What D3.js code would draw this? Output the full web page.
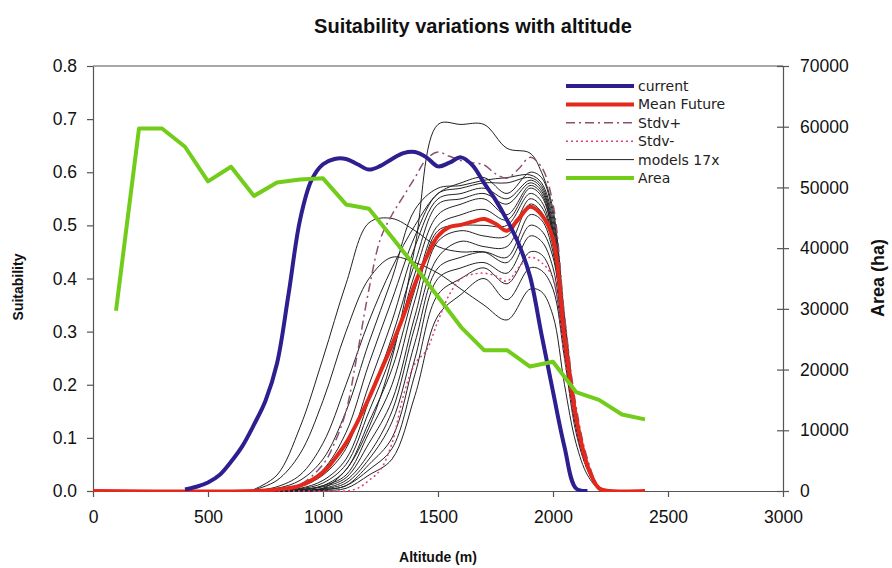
<!DOCTYPE html>
<html lang="en">
<head>
<meta charset="UTF-8">
<title>Suitability variations with altitude</title>
<script src="https://d3js.org/d3.v7.min.js"></script>
<style>
  body { margin: 0; background: #fff; }
  svg { display: block; font-family: "Liberation Sans", Arial, sans-serif; }
  .tick text { font-size: 17.5px; fill: #111; }
  .domain, .tick line { stroke: #555; stroke-width: 1.2; }
  .legend text { font-family: "DejaVu Sans", Verdana, sans-serif; font-size: 14px; fill: #222; }
</style>
</head>
<body>
<svg width="892" height="568"></svg>
<script>
// altitude grids (m)
const currentAlt = [400, 450, 500, 550, 600, 650, 700, 750, 800, 850, 900, 950, 1000, 1050, 1100, 1150, 1200, 1250, 1300, 1350, 1400, 1450, 1500, 1550, 1600, 1650, 1700, 1750, 1800, 1850, 1900, 1950, 2000, 2050, 2100, 2150];
const current = [0.003, 0.008, 0.016, 0.03, 0.055, 0.085, 0.125, 0.17, 0.24, 0.37, 0.51, 0.585, 0.615, 0.625, 0.625, 0.615, 0.605, 0.612, 0.625, 0.636, 0.638, 0.628, 0.611, 0.618, 0.628, 0.613, 0.58, 0.548, 0.51, 0.466, 0.404, 0.295, 0.187, 0.083, 0.005, 0];

const futureAlt = [0, 700, 800, 900, 1000, 1050, 1100, 1150, 1200, 1250, 1300, 1350, 1400, 1450, 1500, 1550, 1600, 1650, 1700, 1750, 1800, 1850, 1900, 1950, 2000, 2050, 2100, 2150, 2200, 2250, 2400];
const meanFuture = [0, 0, 0.003, 0.01, 0.035, 0.06, 0.09, 0.13, 0.175, 0.225, 0.275, 0.33, 0.39, 0.44, 0.48, 0.497, 0.501, 0.507, 0.512, 0.503, 0.49, 0.512, 0.535, 0.52, 0.475, 0.29, 0.14, 0.048, 0.005, 0, 0];
const stdvPlus = [0, 0, 0.003, 0.012, 0.05, 0.09, 0.15, 0.26, 0.38, 0.475, 0.52, 0.555, 0.59, 0.625, 0.638, 0.63, 0.622, 0.618, 0.614, 0.597, 0.589, 0.606, 0.628, 0.61, 0.54, 0.33, 0.16, 0.06, 0.008, 0, 0];
const stdvMinus = [0, 0, 0, 0, 0, 0, 0, 0.005, 0.02, 0.04, 0.09, 0.18, 0.24, 0.265, 0.32, 0.37, 0.40, 0.408, 0.41, 0.405, 0.395, 0.42, 0.44, 0.43, 0.40, 0.25, 0.12, 0.04, 0.005, 0, 0];

// 17 individual model runs
const modelAlt = [700, 800, 900, 1000, 1100, 1200, 1300, 1400, 1500, 1600, 1700, 1800, 1900, 1950, 2000, 2050, 2100, 2150, 2200, 2250];
const models = [
  [0, 0, 0, 0.005, 0.04, 0.12, 0.25, 0.46, 0.69, 0.69, 0.69, 0.645, 0.636, 0.6, 0.53, 0.33, 0.15, 0.05, 0.008, 0],
  [0.003, 0.03, 0.12, 0.25, 0.39, 0.505, 0.513, 0.49, 0.46, 0.45, 0.45, 0.43, 0.50, 0.49, 0.44, 0.28, 0.13, 0.045, 0.006, 0],
  [0.002, 0.02, 0.07, 0.17, 0.30, 0.40, 0.44, 0.43, 0.41, 0.38, 0.35, 0.322, 0.38, 0.375, 0.33, 0.2, 0.09, 0.03, 0.004, 0],
  [0, 0.008, 0.03, 0.09, 0.2, 0.32, 0.42, 0.50, 0.56, 0.58, 0.59, 0.56, 0.60, 0.59, 0.52, 0.32, 0.15, 0.05, 0.007, 0],
  [0, 0.005, 0.02, 0.06, 0.15, 0.28, 0.40, 0.53, 0.57, 0.575, 0.585, 0.59, 0.595, 0.58, 0.51, 0.31, 0.14, 0.05, 0.007, 0],
  [0, 0.003, 0.01, 0.04, 0.11, 0.24, 0.36, 0.48, 0.56, 0.57, 0.58, 0.58, 0.59, 0.575, 0.5, 0.31, 0.14, 0.05, 0.007, 0],
  [0, 0.002, 0.008, 0.03, 0.08, 0.2, 0.32, 0.46, 0.55, 0.56, 0.57, 0.55, 0.585, 0.57, 0.49, 0.3, 0.14, 0.05, 0.006, 0],
  [0, 0.001, 0.005, 0.02, 0.06, 0.17, 0.29, 0.43, 0.54, 0.55, 0.56, 0.54, 0.58, 0.565, 0.49, 0.3, 0.14, 0.048, 0.006, 0],
  [0, 0, 0.004, 0.015, 0.05, 0.15, 0.26, 0.41, 0.52, 0.54, 0.55, 0.52, 0.575, 0.56, 0.48, 0.3, 0.13, 0.047, 0.006, 0],
  [0, 0, 0.003, 0.01, 0.04, 0.13, 0.23, 0.38, 0.50, 0.52, 0.53, 0.51, 0.57, 0.555, 0.48, 0.29, 0.13, 0.046, 0.006, 0],
  [0, 0, 0.002, 0.01, 0.03, 0.11, 0.2, 0.36, 0.49, 0.50, 0.50, 0.50, 0.56, 0.545, 0.47, 0.29, 0.13, 0.045, 0.006, 0],
  [0, 0, 0.002, 0.008, 0.025, 0.09, 0.17, 0.33, 0.47, 0.49, 0.48, 0.48, 0.55, 0.535, 0.47, 0.29, 0.13, 0.045, 0.006, 0],
  [0, 0, 0.001, 0.005, 0.02, 0.07, 0.15, 0.31, 0.44, 0.47, 0.46, 0.46, 0.54, 0.525, 0.46, 0.28, 0.13, 0.044, 0.006, 0],
  [0, 0, 0.001, 0.004, 0.015, 0.06, 0.13, 0.28, 0.42, 0.44, 0.45, 0.44, 0.52, 0.51, 0.45, 0.28, 0.13, 0.044, 0.006, 0],
  [0, 0, 0, 0.003, 0.01, 0.05, 0.1, 0.25, 0.40, 0.42, 0.43, 0.41, 0.48, 0.47, 0.42, 0.27, 0.12, 0.042, 0.006, 0],
  [0, 0, 0, 0.002, 0.01, 0.04, 0.08, 0.22, 0.37, 0.40, 0.42, 0.39, 0.45, 0.445, 0.4, 0.26, 0.12, 0.04, 0.005, 0],
  [0, 0, 0, 0.001, 0.005, 0.03, 0.06, 0.18, 0.33, 0.37, 0.40, 0.36, 0.42, 0.415, 0.38, 0.25, 0.11, 0.04, 0.005, 0]
];

// area per altitude band (ha), secondary axis
const areaAlt = [100, 200, 300, 400, 500, 600, 700, 800, 900, 1000, 1100, 1200, 1300, 1400, 1500, 1600, 1700, 1800, 1900, 2000, 2100, 2200, 2300, 2400];
const areaHa = [29700, 59700, 59700, 56700, 51000, 53400, 48600, 50800, 51300, 51500, 47200, 46500, 41800, 37000, 32000, 27000, 23200, 23200, 20500, 21300, 16300, 15000, 12600, 11800];

const xTicks = [0, 500, 1000, 1500, 2000, 2500, 3000];
const suitTicks = [0, 0.1, 0.2, 0.3, 0.4, 0.5, 0.6, 0.7, 0.8];
const areaTicks = [0, 10000, 20000, 30000, 40000, 50000, 60000, 70000];

const legendItems = [
  { label: "current", color: "#2d1f8f", width: 4, dash: null },
  { label: "Mean Future", color: "#e3281c", width: 4, dash: null },
  { label: "Stdv+", color: "#8c4f72", width: 1.5, dash: "9,4,2,4" },
  { label: "Stdv-", color: "#e0407a", width: 1.5, dash: "2,3" },
  { label: "models 17x", color: "#222", width: 1, dash: null },
  { label: "Area", color: "#72cc1a", width: 4, dash: null }
];

const margin = { top: 66, right: 109, bottom: 77, left: 93 };
const width = 892, height = 568;

const svg = d3.select("svg");

const x = d3.scaleLinear().domain([0, 3000]).range([margin.left, width - margin.right]);
const ySuit = d3.scaleLinear().domain([0, 0.8]).range([height - margin.bottom, margin.top]);
const yArea = d3.scaleLinear().domain([0, 70000]).range([height - margin.bottom, margin.top]);

// clip curves to the plot box
svg.append("clipPath").attr("id", "plotClip")
  .append("rect")
  .attr("x", x(0)).attr("y", ySuit(0.8) - 2)
  .attr("width", x(3000) - x(0)).attr("height", ySuit(0) - ySuit(0.8) + 3);

// title
svg.append("text")
  .attr("x", 473).attr("y", 33)
  .attr("text-anchor", "middle")
  .style("font-size", "20px").style("font-weight", "bold").style("fill", "#111")
  .text("Suitability variations with altitude");

// top frame line
svg.append("line")
  .attr("x1", x(0)).attr("x2", x(3000))
  .attr("y1", ySuit(0.8)).attr("y2", ySuit(0.8))
  .attr("stroke", "#555").attr("stroke-width", 1.2);

// axes
svg.append("g")
  .attr("transform", `translate(0,${ySuit(0)})`)
  .call(d3.axisBottom(x).tickValues(xTicks).tickFormat(d3.format("d")).tickSize(6).tickSizeOuter(0).tickPadding(14));

svg.append("g")
  .attr("transform", `translate(${x(0)},0)`)
  .call(d3.axisLeft(ySuit).tickValues(suitTicks).tickFormat(d3.format(".1f")).tickSize(6).tickSizeOuter(0).tickPadding(10));

svg.append("g")
  .attr("transform", `translate(${x(3000)},0)`)
  .call(d3.axisRight(yArea).tickValues(areaTicks).tickFormat(d3.format("d")).tickSize(6).tickSizeOuter(0).tickPadding(11))
  .call(g => g.selectAll(".tick line").attr("x1", -6));

// axis titles
svg.append("text")
  .attr("transform", "translate(23,287) rotate(-90)")
  .attr("text-anchor", "middle")
  .style("font-size", "14px").style("font-weight", "bold").style("fill", "#111")
  .text("Suitability");

svg.append("text")
  .attr("transform", "translate(884,278) rotate(-90)")
  .attr("text-anchor", "middle")
  .style("font-size", "18px").style("font-weight", "bold").style("fill", "#111")
  .text("Area (ha)");

svg.append("text")
  .attr("x", 438).attr("y", 562)
  .attr("text-anchor", "middle")
  .style("font-size", "14px").style("font-weight", "bold").style("fill", "#111")
  .text("Altitude (m)");

// smoothed line generator (Excel-style smoothing)
const suitLine = xs => d3.line()
  .x((d, i) => x(xs[i]))
  .y(d => ySuit(d))
  .curve(d3.curveCatmullRom.alpha(0.5));

const plot = svg.append("g").attr("clip-path", "url(#plotClip)");

// models
plot.selectAll(".model")
  .data(models)
  .join("path")
  .attr("class", "model")
  .attr("fill", "none")
  .attr("stroke", "#222")
  .attr("stroke-width", 1)
  .attr("d", d => suitLine(modelAlt)(d));

// std envelopes
plot.append("path").datum(stdvPlus)
  .attr("fill", "none").attr("stroke", legendItems[2].color)
  .attr("stroke-width", 1.5).attr("stroke-dasharray", legendItems[2].dash)
  .attr("d", suitLine(futureAlt));

plot.append("path").datum(stdvMinus)
  .attr("fill", "none").attr("stroke", legendItems[3].color)
  .attr("stroke-width", 1.5).attr("stroke-dasharray", legendItems[3].dash)
  .attr("d", suitLine(futureAlt));

// mean future
plot.append("path").datum(meanFuture)
  .attr("fill", "none").attr("stroke", legendItems[1].color)
  .attr("stroke-width", 4).attr("stroke-linejoin", "round")
  .attr("d", suitLine(futureAlt));

// current
plot.append("path").datum(current)
  .attr("fill", "none").attr("stroke", legendItems[0].color)
  .attr("stroke-width", 4).attr("stroke-linejoin", "round")
  .attr("d", suitLine(currentAlt));

// area on secondary axis
plot.append("path").datum(areaHa)
  .attr("fill", "none").attr("stroke", legendItems[5].color)
  .attr("stroke-width", 4).attr("stroke-linejoin", "round")
  .attr("d", d3.line().x((d, i) => x(areaAlt[i])).y(d => yArea(d)));

// legend
const legend = svg.append("g").attr("class", "legend");
legendItems.forEach((item, i) => {
  const ly = 86 + i * 18.4;
  legend.append("line")
    .attr("x1", 566).attr("x2", 634).attr("y1", ly).attr("y2", ly)
    .attr("stroke", item.color).attr("stroke-width", item.width)
    .attr("stroke-dasharray", item.dash);
  legend.append("text")
    .attr("x", 638).attr("y", ly + 5)
    .text(item.label);
});
</script>
</body>
</html>
